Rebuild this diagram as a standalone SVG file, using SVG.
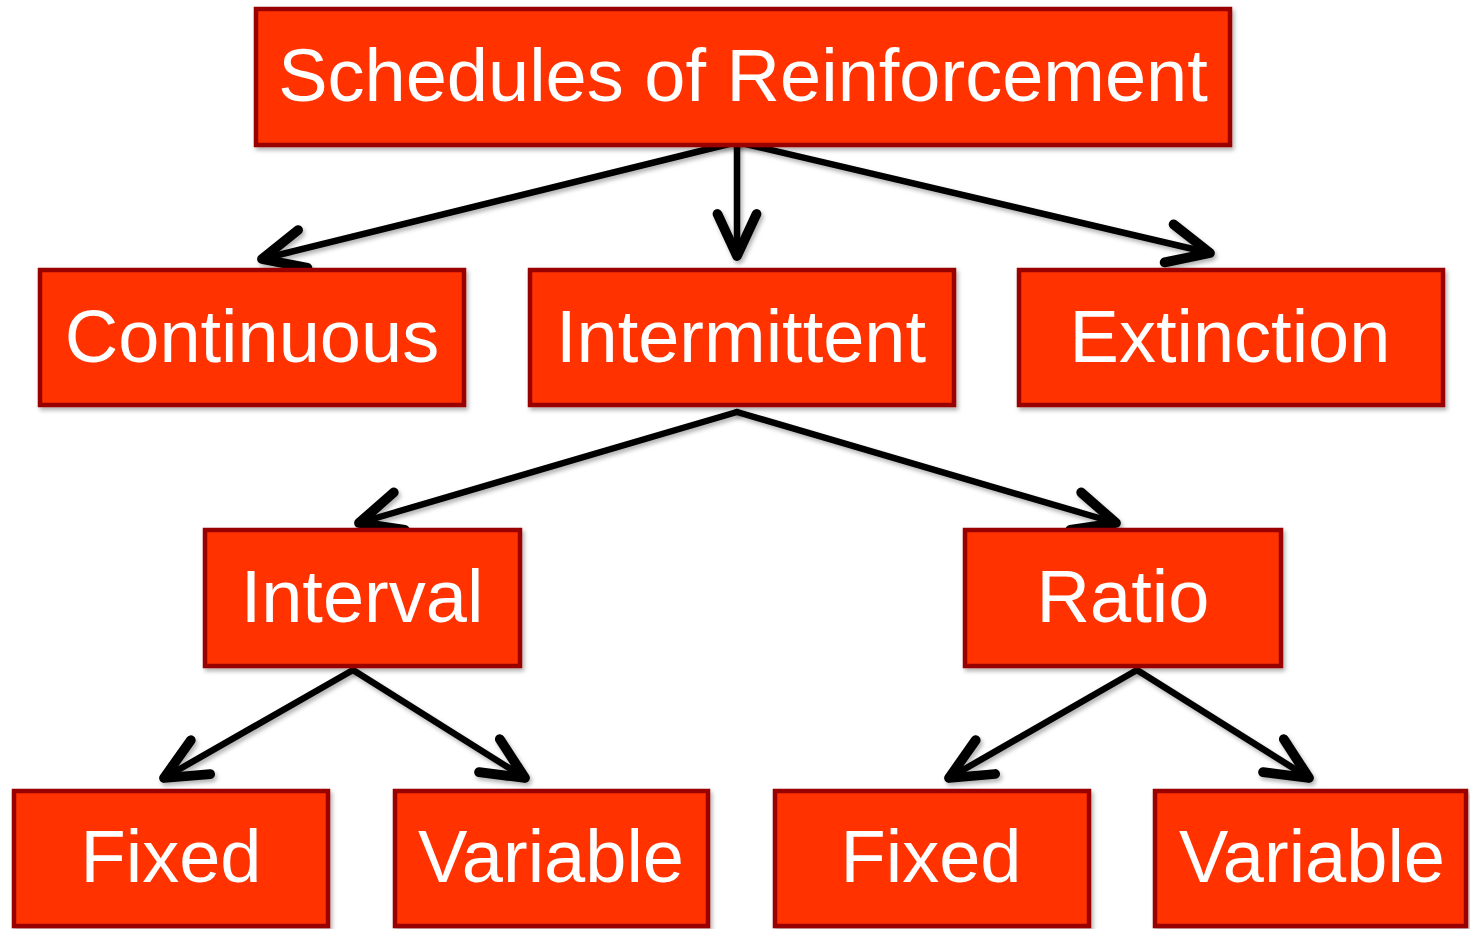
<svg xmlns="http://www.w3.org/2000/svg" width="1470" height="929" viewBox="0 0 1470 929">
<style>
.box{fill:#FF3300;stroke:#990000;stroke-width:4.5;filter:url(#sh)}
.lbl{fill:#FFFFFF;font-family:"Liberation Sans",Arial,sans-serif;font-size:74px;text-anchor:middle}
.conn{stroke:#000;stroke-width:6.5;fill:none;stroke-linecap:round;marker-end:url(#arr);filter:url(#sh)}
</style>
<defs>
<filter id="sh" filterUnits="userSpaceOnUse" x="0" y="0" width="1470" height="929">
<feDropShadow dx="2" dy="3" stdDeviation="2" flood-color="#000" flood-opacity="0.3"/>
</filter>
<marker id="arr" markerUnits="userSpaceOnUse" markerWidth="60" markerHeight="60" refX="0" refY="0" viewBox="-35 -20 40 40" orient="auto" overflow="visible">
<path d="M-28,-13 L0,0 L-28,13" fill="none" stroke="#000" stroke-width="6.5" stroke-linecap="round" stroke-linejoin="round"/>
</marker>
</defs>
<g id="connectors">
<line class="conn" x1="737" y1="142" x2="262" y2="259"/>
<line class="conn" x1="737" y1="142" x2="737" y2="256"/>
<line class="conn" x1="737" y1="142" x2="1210" y2="253"/>
<line class="conn" x1="737" y1="412" x2="359" y2="523"/>
<line class="conn" x1="737" y1="412" x2="1116" y2="523"/>
<line class="conn" x1="353" y1="670" x2="164" y2="778"/>
<line class="conn" x1="353" y1="670" x2="525" y2="778"/>
<line class="conn" x1="1137" y1="670" x2="949" y2="778"/>
<line class="conn" x1="1137" y1="670" x2="1309" y2="778"/>
</g>
<g id="n-schedules"><rect class="box" x="256" y="9" width="974" height="136"/><text class="lbl" x="743" y="101">Schedules of Reinforcement</text></g>
<g id="n-continuous"><rect class="box" x="40" y="270" width="424" height="135"/><text class="lbl" x="252" y="362">Continuous</text></g>
<g id="n-intermittent"><rect class="box" x="530" y="270" width="424" height="135"/><text class="lbl" x="741" y="362">Intermittent</text></g>
<g id="n-extinction"><rect class="box" x="1019" y="270" width="424" height="135"/><text class="lbl" x="1230" y="362">Extinction</text></g>
<g id="n-interval"><rect class="box" x="205" y="530" width="315" height="136"/><text class="lbl" x="362" y="622">Interval</text></g>
<g id="n-ratio"><rect class="box" x="965" y="530" width="316" height="136"/><text class="lbl" x="1123" y="622">Ratio</text></g>
<g id="n-fixed1"><rect class="box" x="14" y="791" width="314" height="135"/><text class="lbl" x="171" y="882">Fixed</text></g>
<g id="n-variable1"><rect class="box" x="395" y="791" width="313" height="135"/><text class="lbl" x="551" y="882">Variable</text></g>
<g id="n-fixed2"><rect class="box" x="775" y="791" width="314" height="135"/><text class="lbl" x="931" y="882">Fixed</text></g>
<g id="n-variable2"><rect class="box" x="1155" y="791" width="311" height="135"/><text class="lbl" x="1312" y="882">Variable</text></g>
</svg>
